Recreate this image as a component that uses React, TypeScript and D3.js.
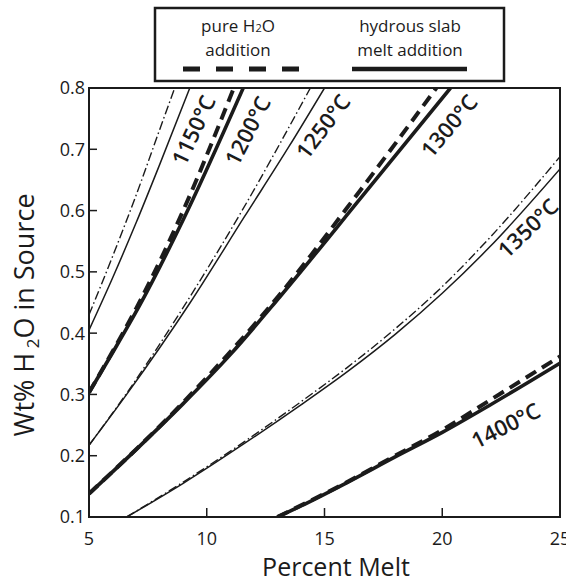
import React from "react";
import * as d3 from "d3";

// ---- data (percent melt, wt% H2O) ----
const xTicks = [5, 10, 15, 20, 25];
const yTicks = [0.1, 0.2, 0.3, 0.4, 0.5, 0.6, 0.7, 0.8];
const tempLabels = ["1150°C", "1200°C", "1250°C", "1300°C", "1350°C", "1400°C"];

const slab1150: [number, number][] = [[5, 0.405], [6, 0.49], [7, 0.58], [8, 0.675], [9.28, 0.8]];
const h2o1150: [number, number][] = [[5, 0.43], [6, 0.525], [7, 0.625], [8, 0.732], [8.64, 0.8]];
const slab1200: [number, number][] = [[5, 0.303], [6, 0.368], [7.16, 0.446], [9, 0.585], [11.55, 0.8]];
const h2o1200: [number, number][] = [[5, 0.303], [6, 0.37], [7, 0.44], [9, 0.6], [11.15, 0.8]];
const slab1250: [number, number][] = [[5, 0.217], [6.6, 0.3], [9.3, 0.45], [11.6, 0.59], [13.5, 0.705], [15, 0.8]];
const h2o1250: [number, number][] = [[5, 0.217], [6.6, 0.302], [9.07, 0.446], [11.5, 0.6], [14.4, 0.8]];
const slab1300: [number, number][] = [[5, 0.138], [7, 0.21], [9, 0.285], [11, 0.365], [13.1, 0.459], [16.7, 0.628], [20.35, 0.8]];
const h2o1300: [number, number][] = [[5, 0.138], [9, 0.287], [13.1, 0.463], [16.5, 0.632], [19.75, 0.8]];
const slab1350: [number, number][] = [[6.6, 0.1], [9, 0.155], [11.6, 0.22], [14, 0.283], [16, 0.338], [18, 0.398], [20, 0.465], [22, 0.54], [25, 0.668]];
const h2o1350: [number, number][] = [[6.6, 0.1], [9, 0.157], [11.6, 0.223], [14, 0.288], [16, 0.345], [18, 0.407], [20, 0.476], [22, 0.555], [25, 0.688]];
const slab1400: [number, number][] = [[13, 0.1], [14, 0.118], [16, 0.157], [18, 0.198], [20, 0.238], [22, 0.282], [25, 0.351]];
const h2o1400: [number, number][] = [[13, 0.1], [16, 0.158], [18, 0.2], [20, 0.242], [22, 0.29], [25, 0.362]];

// label anchor positions in data units
const labelX = [9.45, 11.75, 14.95, 20.3, 23.65, 22.7];
const labelY = [0.731, 0.73, 0.737, 0.738, 0.571, 0.249];
const labelAngle = [-65, -63, -53, -50, -44, -27];

const W = 566, H = 579;
const L = 89, R = 560, T = 88, B = 517;
const FONT = "'Open Sans', 'Noto Sans', sans-serif";
const INK = "#1b1b1b";

export default function App() {
  const x = d3.scaleLinear().domain([5, 25]).range([L, R]);
  const y = d3.scaleLinear().domain([0.1, 0.8]).range([B, T]);
  const line = d3.line<[number, number]>().x(d => x(d[0])).y(d => y(d[1])).curve(d3.curveMonotoneX);

  const thin = { stroke: INK, strokeWidth: 1.5, fill: "none" };
  const thick = { stroke: INK, strokeWidth: 3.6, fill: "none" };
  const dashDot = { stroke: INK, strokeWidth: 1.4, fill: "none", strokeDasharray: "9,3,1.5,3" };
  const thickDash = { stroke: INK, strokeWidth: 4, fill: "none", strokeDasharray: "12,7" };

  const series = [
    { d: h2o1150, s: dashDot }, { d: slab1150, s: thin },
    { d: h2o1200, s: thickDash }, { d: slab1200, s: thick },
    { d: h2o1250, s: dashDot }, { d: slab1250, s: thin },
    { d: h2o1300, s: thickDash }, { d: slab1300, s: thick },
    { d: h2o1350, s: dashDot }, { d: slab1350, s: thin },
    { d: h2o1400, s: thickDash }, { d: slab1400, s: thick },
  ];

  return (
    <svg width={W} height={H} style={{ position: "absolute", left: 0, top: 0, background: "#fff" }} fontFamily={FONT}>
      <defs>
        <clipPath id="plot">
          <rect x={L} y={T} width={R - L} height={B - T} />
        </clipPath>
      </defs>
      {/* legend */}
      <rect x={155} y={8} width={349} height={73} fill="none" stroke={INK} strokeWidth={2.5} />
      <text x={238} y={32} textAnchor="middle" fontSize={17} fill={INK}>
        pure H<tspan fontSize={11}>2</tspan>O
      </text>
      <text x={238} y={56} textAnchor="middle" fontSize={17} fill={INK}>addition</text>
      <text x={410} y={32} textAnchor="middle" fontSize={17} fill={INK}>hydrous slab</text>
      <text x={410} y={56} textAnchor="middle" fontSize={17} fill={INK}>melt addition</text>
      <line x1={183} x2={299} y1={69} y2={69} stroke={INK} strokeWidth={5} strokeDasharray="17,16" />
      <line x1={352} x2={467} y1={69} y2={69} stroke={INK} strokeWidth={4.5} />

      {/* curves */}
      <g clipPath="url(#plot)">
        {series.map((c, i) => (
          <path key={i} d={line(c.d) || ""} {...c.s} />
        ))}
      </g>

      {/* frame */}
      <rect x={L} y={T} width={R - L} height={B - T} fill="none" stroke={INK} strokeWidth={2} />
      {yTicks.slice(1, -1).map(t => (
        <line key={t} x1={L} x2={L + 8} y1={y(t)} y2={y(t)} stroke={INK} strokeWidth={1.5} />
      ))}
      {xTicks.slice(1, -1).map(t => (
        <line key={t} x1={x(t)} x2={x(t)} y1={B} y2={B - 9} stroke={INK} strokeWidth={1.5} />
      ))}
      {yTicks.map(t => (
        <text key={t} x={L - 4} y={y(t)} dy="0.36em" textAnchor="end" fontSize={18} fill={INK}>
          {d3.format(".1f")(t)}
        </text>
      ))}
      {xTicks.map(t => (
        <text key={t} x={x(t)} y={545} textAnchor="middle" fontSize={18} fill={INK}>
          {t}
        </text>
      ))}

      {/* temperature labels */}
      {tempLabels.map((lab, i) => (
        <text
          key={lab}
          transform={`translate(${x(labelX[i])},${y(labelY[i])}) rotate(${labelAngle[i]})`}
          textAnchor="middle"
          dy="0.35em"
          fontSize={22}
          fontWeight={600}
          fill={INK}
        >
          {lab}
        </text>
      ))}

      {/* axis titles */}
      <text x={336} y={576} textAnchor="middle" fontSize={25} fill={INK}>Percent Melt</text>
      <text transform="translate(34,315) rotate(-90)" textAnchor="middle" fontSize={27} fill={INK}>
        Wt% H<tspan fontSize={17} dy={5}> 2</tspan><tspan dy={-5}>O in Source</tspan>
      </text>
    </svg>
  );
}
